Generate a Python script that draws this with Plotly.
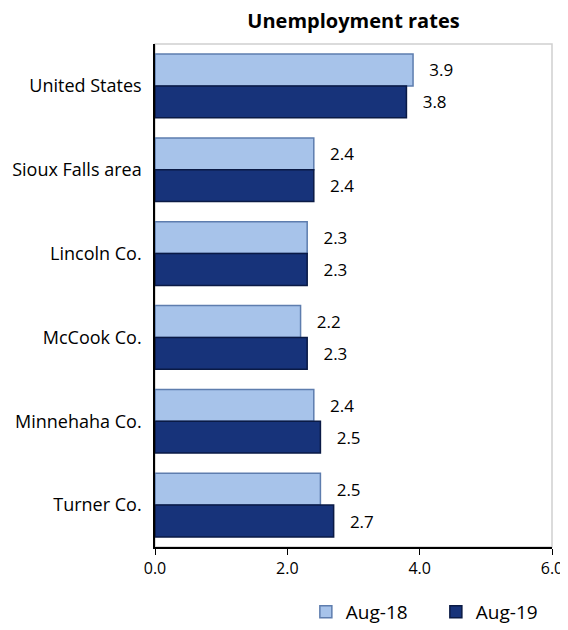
import plotly.graph_objects as go

categories = ["United States", "Sioux Falls area", "Lincoln Co.", "McCook Co.",
              "Minnehaha Co.", "Turner Co."]
aug_18 = [3.9, 2.4, 2.3, 2.2, 2.4, 2.5]
aug_19 = [3.8, 2.4, 2.3, 2.3, 2.5, 2.7]
x_ticks = [0, 2, 4, 6]

FONT = "Open Sans, Calibri, sans-serif"
LABEL = "&nbsp;&nbsp;&nbsp;%{x:.1f}"

fig = go.Figure()
fig.add_trace(go.Bar(
    y=categories, x=aug_18, name="Aug-18", orientation="h",
    marker=dict(color="#A7C3EA", line=dict(color="#5E7DAE", width=1.5)),
    texttemplate=LABEL, textposition="outside",
    textfont=dict(size=17, color="black"), cliponaxis=False,
))
fig.add_trace(go.Bar(
    y=categories, x=aug_19, name="Aug-19", orientation="h",
    marker=dict(color="#17337A", line=dict(color="#0A1A45", width=1.5)),
    texttemplate=LABEL, textposition="outside",
    textfont=dict(size=17, color="black"), cliponaxis=False,
))

# light frame around the plot area
fig.add_shape(type="rect", xref="paper", yref="paper", x0=0, x1=1, y0=0, y1=1,
              line=dict(color="#D0D0D0", width=1.5), layer="below")

# page body has an 8px margin, so the figure is sized to the visible area
fig.update_layout(
    width=560, height=622,
    margin=dict(l=147, r=16, t=36, b=83),
    paper_bgcolor="white", plot_bgcolor="white",
    font=dict(family=FONT, size=18, color="black"),
    title=dict(text="<b>Unemployment rates</b>", x=0.5, xref="paper",
               y=0.979, yanchor="middle", font=dict(size=20)),
    barmode="group", bargap=0.24, bargroupgap=0.0,
    showlegend=True,
    legend=dict(orientation="h", x=0.38, xanchor="left",
                yref="container", y=0.029, yanchor="middle",
                font=dict(size=19), traceorder="normal", itemwidth=30,
                entrywidth=85),
    xaxis=dict(range=[0, 6], tickvals=x_ticks, tickformat=".1f",
               tickfont=dict(size=16),
               showgrid=False, showline=True, linecolor="black", linewidth=1.5,
               ticks="outside", ticklen=6, tickcolor="black", zeroline=False,
               automargin=False),
    yaxis=dict(autorange="reversed", showgrid=False, showline=True,
               linecolor="black", linewidth=1.5, ticks="", ticklabelstandoff=8,
               automargin=False),
)

fig.write_html("out.html")
